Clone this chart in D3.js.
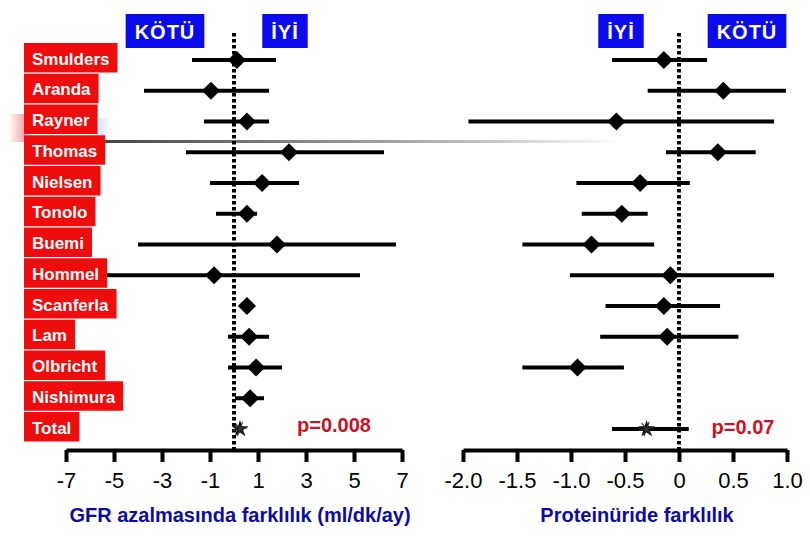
<!DOCTYPE html>
<html><head><meta charset="utf-8">
<script src="https://cdn.jsdelivr.net/npm/d3@7"></script>
<style>
html,body{margin:0;padding:0;background:#fff;}
svg{display:block;font-family:"Liberation Sans",Arial,sans-serif;}
</style></head>
<body><svg id="c" width="810" height="540"></svg>
<script>
// ---- data ----
const studies = ["Smulders","Aranda","Rayner","Thomas","Nielsen","Tonolo","Buemi","Hommel","Scanferla","Lam","Olbricht","Nishimura","Total"];
const gfrMean = [0.12,-0.96,0.54,2.29,1.17,0.54,1.79,-0.83,0.54,0.63,0.92,0.67,0.25];
const gfrLow  = [-1.75,-3.75,-1.25,-2.0,-1.0,-0.75,-4.0,-5.5,0.3,-0.25,-0.25,0.04,0.15];
const gfrHigh = [1.75,1.46,1.46,6.25,2.71,0.96,6.75,5.25,0.8,1.46,2.0,1.25,0.35];
const protMean = [-0.14,0.41,-0.58,0.36,-0.36,-0.53,-0.81,-0.08,-0.14,-0.11,-0.94,null,-0.30];
const protLow  = [-0.62,-0.29,-1.95,-0.12,-0.95,-0.90,-1.45,-1.01,-0.68,-0.73,-1.45,null,-0.62];
const protHigh = [0.26,0.99,0.88,0.71,0.10,-0.29,-0.23,0.88,0.38,0.55,-0.51,null,0.09];
const gfrTicks = [-7,-5,-3,-1,1,3,5,7];
const protTicks = [-2.0,-1.5,-1.0,-0.5,0,0.5,1.0];
const protTickLabels = ["-2.0","-1.5","-1.0","-0.5","0","0.5","1.0"];
const gfrTitle = "GFR azalmasında farklılık (ml/dk/ay)";
const protTitle = "Proteinüride farklılık";
const pValues = ["p=0.008","p=0.07"];
const bad = "KÖTÜ", good = "İYİ";

// ---- layout ----
const svg = d3.select("#c");
const axisY = 450;
const xL = d3.scaleLinear().domain([-7,7]).range([66,402]);
const xR = d3.scaleLinear().domain([-2,1]).range([463,787]);
const y = d3.scaleLinear().domain([0,12]).range([60,429]);

// slide decoration artefacts
const defs = svg.append("defs");
const g1 = defs.append("linearGradient").attr("id","gl");
g1.append("stop").attr("offset","0").attr("stop-color","#444");
g1.append("stop").attr("offset","0.7").attr("stop-color","#bbb");
g1.append("stop").attr("offset","1").attr("stop-color","#fff");
svg.append("rect").attr("x",100).attr("y",140).attr("width",520).attr("height",3).attr("fill","url(#gl)");
const g2 = defs.append("linearGradient").attr("id","gp");
g2.append("stop").attr("offset","0").attr("stop-color","#fff");
g2.append("stop").attr("offset","1").attr("stop-color","#f7a0a0");
svg.append("rect").attr("x",8).attr("y",114).attr("width",18).attr("height",28).attr("fill","url(#gp)");
const g3 = defs.append("linearGradient").attr("id","gb");
g3.append("stop").attr("offset","0").attr("stop-color","#dde0ff");
g3.append("stop").attr("offset","1").attr("stop-color","#fff");
svg.append("rect").attr("x",99).attr("y",118).attr("width",12).attr("height",18).attr("fill","url(#gb)");

// dotted reference lines
[[xL(0)],[xR(0)]].forEach(([x])=>{
  svg.append("line").attr("x1",x).attr("x2",x).attr("y1",33).attr("y2",axisY)
    .attr("stroke","#000").attr("stroke-width",4).attr("stroke-dasharray","3.5,2.5");
});

// header boxes
function header(cx, txt){
  const g = svg.append("g");
  const t = g.append("text").attr("x",cx).attr("y",39).attr("text-anchor","middle")
    .attr("font-size",20).attr("font-weight","bold").attr("fill","#fff").attr("letter-spacing",1).text(txt);
  const w = t.node().getComputedTextLength();
  g.insert("rect","text").attr("x",cx-w/2-9).attr("y",14).attr("width",w+18).attr("height",34).attr("fill","#0a0aef");
}
header(165,bad); header(285,good); header(621,good); header(747,bad);

// forest panels
function panel(x, mean, lo, hi){
  const g = svg.append("g");
  studies.forEach((s,i)=>{
    if(mean[i]==null) return;
    const yy = y(i);
    g.append("line").attr("x1",x(lo[i])).attr("x2",x(hi[i])).attr("y1",yy).attr("y2",yy)
      .attr("stroke","#000").attr("stroke-width",4);
    if(i<studies.length-1){
      g.append("path").attr("transform",`translate(${x(mean[i])},${yy}) rotate(45)`)
        .attr("d",d3.symbol(d3.symbolSquare).size(165)()).attr("fill","#000");
    } else {
      g.append("path").attr("transform",`translate(${x(mean[i])},${yy})`)
        .attr("d",d3.symbol(d3.symbolStar).size(90)()).attr("fill","#111");
      g.append("path").attr("transform",`translate(${x(mean[i])},${yy}) rotate(20)`)
        .attr("d",d3.symbol(d3.symbolAsterisk).size(160)()).attr("fill","none").attr("stroke","#333").attr("stroke-width",1.2);
    }
  });
}
panel(xL,gfrMean,gfrLow,gfrHigh);
panel(xR,protMean,protLow,protHigh);

// red study labels
studies.forEach((s,i)=>{
  const g = svg.append("g");
  const t = g.append("text").attr("x",32).attr("y",y(i)+4.5).attr("font-size",17).attr("font-weight","bold")
    .attr("fill","#fff").text(s);
  const w = t.node().getComputedTextLength();
  g.insert("rect","text").attr("x",24).attr("y",y(i)-17).attr("width",w+16).attr("height",29.5).attr("fill","#ee0c0c");
});

// axes
function axis(x, ticks, fmt){
  const g = svg.append("g").attr("transform",`translate(0,${axisY})`)
    .call(d3.axisBottom(x).tickValues(ticks).tickSize(12).tickSizeOuter(0).tickFormat(fmt));
  g.select(".domain").attr("stroke-width",4).attr("stroke","#000");
  g.selectAll(".tick line").attr("stroke-width",4).attr("stroke","#000");
  g.selectAll(".tick text").attr("y",22).attr("font-size",22).attr("fill","#000")
    .attr("font-family","'Liberation Sans',Arial,sans-serif");
}
axis(xL, gfrTicks, d=>String(d));
axis(xR, protTicks, (d,i)=>protTickLabels[i]);

// axis titles
svg.append("text").attr("x",240).attr("y",522).attr("text-anchor","middle").attr("font-size",20)
  .attr("font-weight","bold").attr("fill","#0c0ca0").text(gfrTitle);
svg.append("text").attr("x",637).attr("y",522).attr("text-anchor","middle").attr("font-size",20)
  .attr("font-weight","bold").attr("fill","#0c0ca0").text(protTitle);

// p-values
svg.append("text").attr("x",334).attr("y",432).attr("text-anchor","middle").attr("font-size",20)
  .attr("font-weight","bold").attr("fill","#c8141e").text(pValues[0]);
svg.append("text").attr("x",743).attr("y",434).attr("text-anchor","middle").attr("font-size",20)
  .attr("font-weight","bold").attr("fill","#c8141e").text(pValues[1]);
</script></body></html>
